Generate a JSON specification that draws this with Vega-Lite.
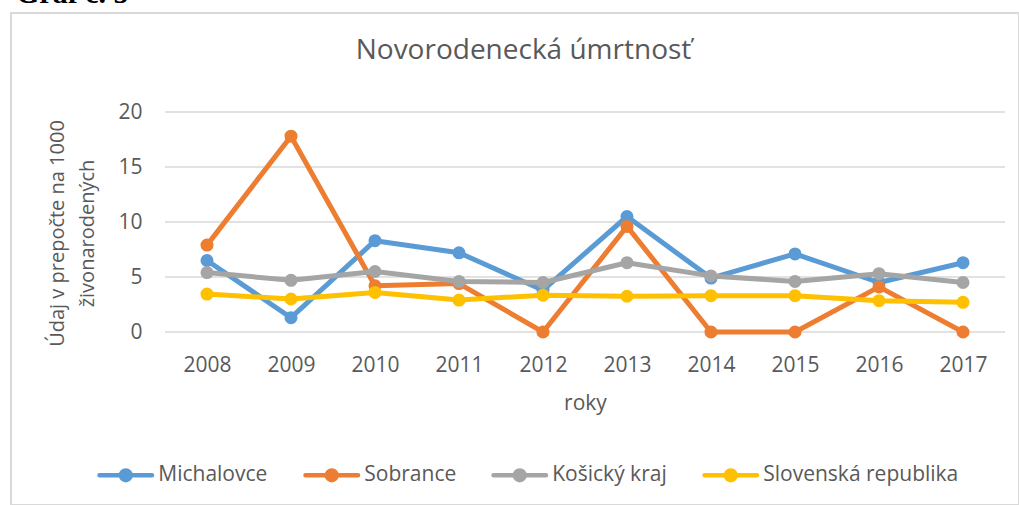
{
  "$schema": "https://vega.github.io/schema/vega-lite/v6.json",
  "autosize": {"type": "none"},
  "padding": {"left": 11, "top": 13, "right": 0, "bottom": 0},
  "width": 1008,
  "height": 492,
  "background": "white",
  "title": {
    "text": "Graf č. 5",
    "anchor": "start",
    "frame": "bounds",
    "font": "Liberation Serif",
    "fontSize": 30,
    "fontWeight": "bold",
    "color": "#000000",
    "baseline": "alphabetic",
    "offset": 0,
    "dx": 5,
    "dy": 20
  },
  "config": {
    "view": {"stroke": "#d9d9d9", "strokeWidth": 2, "fill": "white"},
    "font": "Open Sans"
  },
  "datasets": {
    "grid": [{"v": 0}, {"v": 5}, {"v": 10}, {"v": 15}, {"v": 20}],
    "series": [
      {"rok": 2008, "oblast": "Michalovce", "hodnota": 6.5},
      {"rok": 2009, "oblast": "Michalovce", "hodnota": 1.3},
      {"rok": 2010, "oblast": "Michalovce", "hodnota": 8.3},
      {"rok": 2011, "oblast": "Michalovce", "hodnota": 7.2},
      {"rok": 2012, "oblast": "Michalovce", "hodnota": 3.8},
      {"rok": 2013, "oblast": "Michalovce", "hodnota": 10.5},
      {"rok": 2014, "oblast": "Michalovce", "hodnota": 4.9},
      {"rok": 2015, "oblast": "Michalovce", "hodnota": 7.1},
      {"rok": 2016, "oblast": "Michalovce", "hodnota": 4.5},
      {"rok": 2017, "oblast": "Michalovce", "hodnota": 6.3},
      {"rok": 2008, "oblast": "Sobrance", "hodnota": 7.9},
      {"rok": 2009, "oblast": "Sobrance", "hodnota": 17.8},
      {"rok": 2010, "oblast": "Sobrance", "hodnota": 4.2},
      {"rok": 2011, "oblast": "Sobrance", "hodnota": 4.4},
      {"rok": 2012, "oblast": "Sobrance", "hodnota": 0},
      {"rok": 2013, "oblast": "Sobrance", "hodnota": 9.6},
      {"rok": 2014, "oblast": "Sobrance", "hodnota": 0},
      {"rok": 2015, "oblast": "Sobrance", "hodnota": 0},
      {"rok": 2016, "oblast": "Sobrance", "hodnota": 4.1},
      {"rok": 2017, "oblast": "Sobrance", "hodnota": 0},
      {"rok": 2008, "oblast": "Košický kraj", "hodnota": 5.4},
      {"rok": 2009, "oblast": "Košický kraj", "hodnota": 4.7},
      {"rok": 2010, "oblast": "Košický kraj", "hodnota": 5.5},
      {"rok": 2011, "oblast": "Košický kraj", "hodnota": 4.6},
      {"rok": 2012, "oblast": "Košický kraj", "hodnota": 4.5},
      {"rok": 2013, "oblast": "Košický kraj", "hodnota": 6.3},
      {"rok": 2014, "oblast": "Košický kraj", "hodnota": 5.1},
      {"rok": 2015, "oblast": "Košický kraj", "hodnota": 4.6},
      {"rok": 2016, "oblast": "Košický kraj", "hodnota": 5.3},
      {"rok": 2017, "oblast": "Košický kraj", "hodnota": 4.5},
      {"rok": 2008, "oblast": "Slovenská republika", "hodnota": 3.45},
      {"rok": 2009, "oblast": "Slovenská republika", "hodnota": 3.0},
      {"rok": 2010, "oblast": "Slovenská republika", "hodnota": 3.6},
      {"rok": 2011, "oblast": "Slovenská republika", "hodnota": 2.9},
      {"rok": 2012, "oblast": "Slovenská republika", "hodnota": 3.35},
      {"rok": 2013, "oblast": "Slovenská republika", "hodnota": 3.25},
      {"rok": 2014, "oblast": "Slovenská republika", "hodnota": 3.3},
      {"rok": 2015, "oblast": "Slovenská republika", "hodnota": 3.3},
      {"rok": 2016, "oblast": "Slovenská republika", "hodnota": 2.85},
      {"rok": 2017, "oblast": "Slovenská republika", "hodnota": 2.7}
    ]
  },
  "layer": [
    {
      "data": {"name": "grid"},
      "mark": {"type": "rule", "stroke": "#d9d9d9", "strokeWidth": 1.5},
      "encoding": {
        "x": {
          "datum": 2007.5,
          "type": "quantitative",
          "scale": {"domain": [2007.5, 2017.5], "range": [154, 994], "nice": false, "zero": false},
          "axis": {
            "orient": "top",
            "offset": 0,
            "labels": false,
            "ticks": false,
            "domain": false,
            "grid": false,
            "title": "Novorodenecká úmrtnosť",
            "titleFont": "Open Sans",
            "titleFontSize": 28,
            "titleFontWeight": "normal",
            "titleColor": "#595959",
            "titleX": 512,
            "titleY": 45.5,
            "titleAngle": 0,
            "titleAlign": "center",
            "titleBaseline": "alphabetic"
          }
        },
        "x2": {"datum": 2017.5},
        "y": {
          "field": "v",
          "type": "quantitative",
          "scale": {"domain": [0, 20], "range": [319, 99], "nice": false, "zero": true}
        }
      }
    },
    {
      "data": {"name": "series"},
      "mark": {"type": "line", "strokeWidth": 5, "strokeJoin": "round", "strokeCap": "round"},
      "encoding": {
        "x": {
          "field": "rok",
          "type": "quantitative",
          "scale": {"domain": [2007.5, 2017.5], "range": [154, 994], "nice": false, "zero": false},
          "axis": {
            "orient": "bottom",
            "offset": -173,
            "values": [2008, 2009, 2010, 2011, 2012, 2013, 2014, 2015, 2016, 2017],
            "format": "d",
            "domain": false,
            "ticks": false,
            "tickSize": 0,
            "grid": false,
            "labelPadding": 39,
            "labelBaseline": "alphabetic",
            "labelFont": "Open Sans",
            "labelFontSize": 21,
            "labelColor": "#595959",
            "labelFlush": false,
            "labelOverlap": false,
            "title": "roky",
            "titleFont": "Open Sans",
            "titleFontSize": 21,
            "titleFontWeight": "normal",
            "titleColor": "#595959",
            "titleX": 574,
            "titleY": 77,
            "titleAlign": "center",
            "titleBaseline": "alphabetic"
          }
        },
        "y": {
          "field": "hodnota",
          "type": "quantitative",
          "scale": {"domain": [0, 20], "range": [319, 99], "nice": false, "zero": true},
          "axis": {
            "orient": "left",
            "offset": -154,
            "values": [0, 5, 10, 15, 20],
            "domain": false,
            "ticks": false,
            "tickSize": 0,
            "grid": false,
            "labelPadding": 23,
            "labelFont": "Open Sans",
            "labelFontSize": 21,
            "labelColor": "#595959",
            "labelBaseline": "middle",
            "title": ["Údaj v prepočte na 1000", "živonarodených"],
            "titleFont": "Open Sans",
            "titleFontSize": 20,
            "titleFontWeight": "normal",
            "titleColor": "#595959",
            "titleAngle": -90,
            "titleAlign": "center",
            "titleBaseline": "alphabetic",
            "titleLineHeight": 30,
            "titleX": -102,
            "titleY": 220
          }
        },
        "color": {
          "field": "oblast",
          "type": "nominal",
          "scale": {
            "domain": ["Michalovce", "Sobrance", "Košický kraj", "Slovenská republika"],
            "range": ["#5B9BD5", "#ED7D31", "#A5A5A5", "#FFC000"]
          },
          "legend": {
            "orient": "none",
            "legendX": 86.25,
            "legendY": 433.5,
            "direction": "horizontal",
            "title": null,
            "symbolType": "M-1,0L1,0M-0.185,0A0.185,0.185,0,1,1,0.185,0A0.185,0.185,0,1,1,-0.185,0Z",
            "symbolSize": 2756,
            "symbolStrokeWidth": 4.5,
            "labelFont": "Open Sans",
            "labelFontSize": 21,
            "labelColor": "#595959",
            "labelOffset": 4,
            "labelLimit": 400,
            "columnPadding": 28,
            "encode": {
              "symbols": {
                "update": {
                  "fill": {"scale": "color", "field": "value"},
                  "stroke": {"scale": "color", "field": "value"},
                  "strokeCap": {"value": "round"},
                  "opacity": {"value": 1},
                  "fillOpacity": {"value": 1},
                  "strokeOpacity": {"value": 1}
                }
              }
            }
          }
        }
      }
    },
    {
      "data": {"name": "series"},
      "mark": {"type": "point", "filled": true, "opacity": 1, "size": 170},
      "encoding": {
        "x": {
          "field": "rok",
          "type": "quantitative",
          "scale": {"domain": [2007.5, 2017.5], "range": [154, 994], "nice": false, "zero": false},
          "axis": null
        },
        "y": {
          "field": "hodnota",
          "type": "quantitative",
          "scale": {"domain": [0, 20], "range": [319, 99], "nice": false, "zero": true}
        },
        "color": {
          "field": "oblast",
          "type": "nominal",
          "scale": {
            "domain": ["Michalovce", "Sobrance", "Košický kraj", "Slovenská republika"],
            "range": ["#5B9BD5", "#ED7D31", "#A5A5A5", "#FFC000"]
          },
          "legend": null
        }
      }
    }
  ],
  "resolve": {"axis": {"x": "independent"}}
}
